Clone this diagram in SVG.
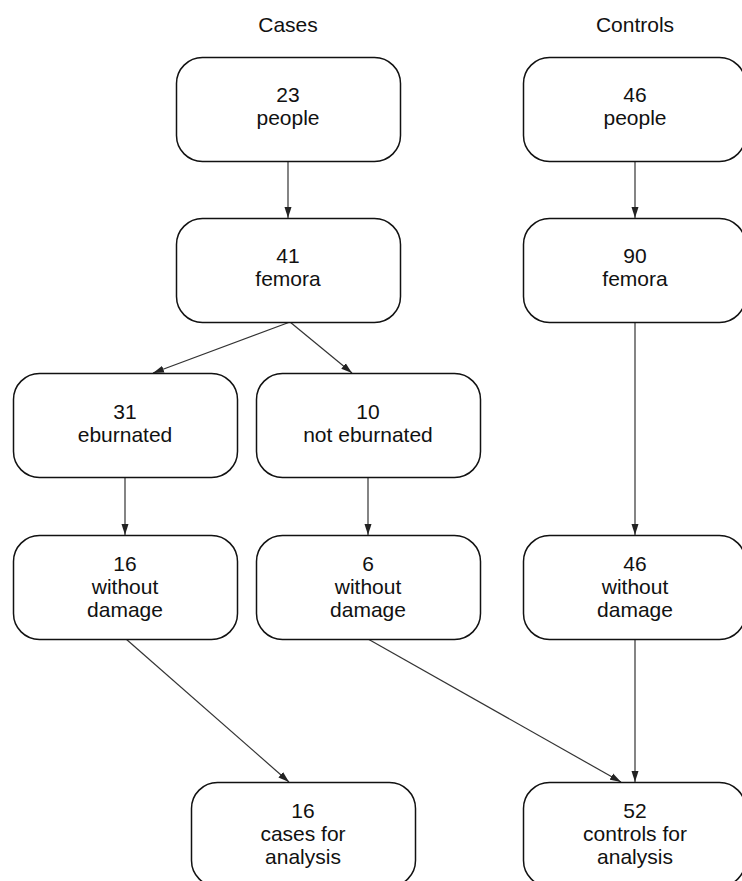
<svg xmlns="http://www.w3.org/2000/svg" width="742" height="881" viewBox="0 0 742 881">
<defs>
<marker id="ah" markerWidth="11" markerHeight="8" refX="11" refY="4" orient="auto" markerUnits="userSpaceOnUse">
<path d="M0,0.5 L11,4 L0,7.5 Z" fill="#222"/>
</marker>
<style>
.box{fill:#fff;stroke:#111;stroke-width:1.5}
.t{font-family:"Liberation Sans",Arial,sans-serif;font-size:21px;fill:#111;text-anchor:middle}
.c{stroke:#333;stroke-width:1.2;fill:none;marker-end:url(#ah)}
</style>
</defs>
<rect width="742" height="881" fill="#fff"/>
<text class="t" x="288" y="32">Cases</text>
<text class="t" x="635" y="32">Controls</text>
<g id="connectors">
<line class="c" x1="288" y1="161" x2="288" y2="218"/>
<line class="c" x1="635" y1="161" x2="635" y2="218"/>
<line class="c" x1="290" y1="322" x2="153" y2="373"/>
<line class="c" x1="290" y1="322" x2="352" y2="373"/>
<line class="c" x1="635" y1="322" x2="635" y2="535"/>
<line class="c" x1="125" y1="477" x2="125" y2="535"/>
<line class="c" x1="368" y1="477" x2="368" y2="535"/>
<line class="c" x1="126" y1="639" x2="289" y2="782"/>
<line class="c" x1="368" y1="639" x2="621" y2="782"/>
<line class="c" x1="635" y1="639" x2="635" y2="782"/>
</g>
<g id="n_cases_people"><rect class="box" x="176.5" y="57.5" width="224" height="104" rx="26"/><text class="t" x="288" y="102">23</text><text class="t" x="288" y="125">people</text></g>
<g id="n_controls_people"><rect class="box" x="523.5" y="57.5" width="222" height="104" rx="26"/><text class="t" x="635" y="102">46</text><text class="t" x="635" y="125">people</text></g>
<g id="n_cases_femora"><rect class="box" x="176.5" y="218.5" width="224" height="104" rx="26"/><text class="t" x="288" y="263">41</text><text class="t" x="288" y="286">femora</text></g>
<g id="n_controls_femora"><rect class="box" x="523.5" y="218.5" width="222" height="104" rx="26"/><text class="t" x="635" y="263">90</text><text class="t" x="635" y="286">femora</text></g>
<g id="n_eburnated"><rect class="box" x="13.5" y="373.5" width="224" height="104" rx="26"/><text class="t" x="125" y="419">31</text><text class="t" x="125" y="442">eburnated</text></g>
<g id="n_not_eburnated"><rect class="box" x="256.5" y="373.5" width="224" height="104" rx="26"/><text class="t" x="368" y="419">10</text><text class="t" x="368" y="442">not eburnated</text></g>
<g id="n_eb_without"><rect class="box" x="13.5" y="535.5" width="224" height="104" rx="26"/><text class="t" x="125" y="571">16</text><text class="t" x="125" y="594">without</text><text class="t" x="125" y="617">damage</text></g>
<g id="n_noteb_without"><rect class="box" x="256.5" y="535.5" width="224" height="104" rx="26"/><text class="t" x="368" y="571">6</text><text class="t" x="368" y="594">without</text><text class="t" x="368" y="617">damage</text></g>
<g id="n_ctrl_without"><rect class="box" x="523.5" y="535.5" width="222" height="104" rx="26"/><text class="t" x="635" y="571">46</text><text class="t" x="635" y="594">without</text><text class="t" x="635" y="617">damage</text></g>
<g id="n_cases_analysis"><rect class="box" x="191.5" y="782.5" width="224" height="104" rx="26"/><text class="t" x="303" y="818">16</text><text class="t" x="303" y="841">cases for</text><text class="t" x="303" y="864">analysis</text></g>
<g id="n_controls_analysis"><rect class="box" x="523.5" y="782.5" width="222" height="104" rx="26"/><text class="t" x="635" y="818">52</text><text class="t" x="635" y="841">controls for</text><text class="t" x="635" y="864">analysis</text></g>
</svg>
